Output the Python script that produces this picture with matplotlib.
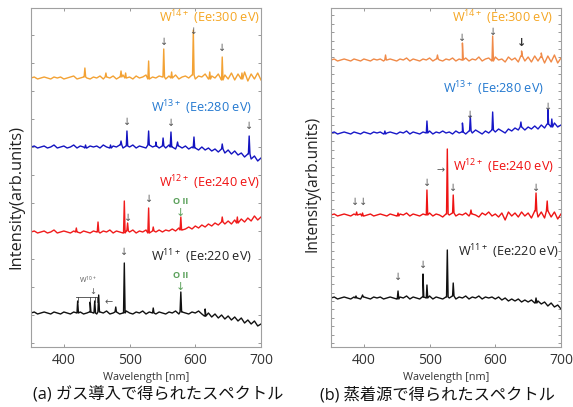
import numpy as np
import matplotlib

matplotlib.use("Agg")
import matplotlib.pyplot as plt

plt.rcParams["font.family"] = ["Open Sans", "Noto Sans CJK JP", "DejaVu Sans"]
plt.rcParams["mathtext.fontset"] = "custom"
plt.rcParams["mathtext.rm"] = "Open Sans"

# wavelength grid of the sampled baselines (nm)
wl = np.arange(350, 701, 5)

# ---- (a) gas injection ----
a_w14 = [269, 270, 268, 269, 270, 269, 268, 270, 269, 270, 268, 269, 270, 271, 268, 269, 270, 269, 268, 270,
         269, 271, 268, 270, 269, 271, 268, 270, 272, 269, 270, 268, 271, 269, 270, 272, 268, 270, 269, 271,
         270, 268, 271, 269, 272, 268, 270, 271, 269, 272, 268, 271, 270, 273, 268, 271, 269, 273, 267, 272,
         268, 274, 267, 273, 268, 275, 266, 273, 268, 274, 267]
a_w13 = [200, 201, 199, 200, 201, 199, 200, 202, 199, 200, 201, 199, 200, 202, 199, 201, 200, 199, 201, 200,
         201, 199, 202, 200, 199, 201, 200, 202, 199, 201, 200, 202, 199, 201, 200, 199, 202, 200, 201, 199,
         201, 199, 202, 200, 198, 201, 199, 201, 198, 200, 199, 197, 200, 197, 199, 196, 198, 195, 198, 194,
         197, 193, 196, 192, 194, 190, 193, 188, 191, 186, 189]
a_w12 = [115, 116, 114, 115, 116, 114, 115, 117, 114, 115, 116, 115, 114, 116, 115, 114, 116, 115, 114, 116,
         115, 114, 116, 115, 117, 114, 116, 115, 114, 116, 115, 117, 114, 116, 115, 117, 114, 116, 115, 117,
         115, 117, 116, 118, 116, 119, 117, 118, 120, 118, 121, 119, 122, 120, 123, 121, 124, 122, 125, 123,
         126, 123, 127, 124, 128, 125, 129, 126, 131, 127, 130]
a_w11 = [34, 35, 33, 34, 35, 34, 33, 35, 34, 33, 35, 34, 33, 35, 34, 35, 33, 34, 35, 34,
         33, 35, 34, 36, 33, 34, 35, 33, 34, 36, 34, 33, 35, 34, 36, 33, 35, 34, 33, 35,
         34, 33, 35, 34, 36, 33, 35, 34, 33, 35, 34, 36, 33, 31, 34, 30, 33, 29, 32, 28,
         31, 27, 30, 26, 29, 24, 27, 23, 26, 21, 23]

a_w14_peaks = [(432, 9), (464, 4), (487, 6), (494, 5), (529, 18), (552, 28), (564, 6),
               (597, 45), (622, 7), (641, 23), (671, 6)]
a_w13_peaks = [(433, 3), (471, 3), (487, 4), (496, 15), (529, 14), (540, 4), (551, 8),
               (563, 15), (573, 4), (598, 11), (641, 5), (682, 18)]
a_w12_peaks = [(419, 4), (452, 10), (492, 32), (497, 8), (529, 25), (536, 4), (578, 13),
               (641, 5), (664, 6)]
a_w11_peaks = [(421, 12), (440, 10), (447, 12), (453, 17), (479, 5), (492, 50), (536, 5),
               (578, 20), (615, 7)]

# ---- (b) evaporation source ----
b_w14 = [287, 288, 286, 287, 288, 287, 286, 288, 287, 286, 288, 287, 286, 288, 287, 288, 286, 287, 288, 287,
         286, 288, 287, 289, 286, 288, 287, 286, 288, 287, 289, 286, 288, 287, 286, 288, 287, 289, 286, 288,
         287, 289, 286, 288, 287, 290, 286, 288, 289, 286, 290, 287, 288, 285, 290, 287, 289, 285, 291, 286,
         290, 285, 291, 286, 290, 284, 291, 285, 292, 284, 289]
b_w13 = [214, 215, 213, 214, 215, 214, 213, 215, 214, 213, 215, 214, 213, 215, 214, 215, 213, 214, 215, 214,
         213, 215, 214, 216, 213, 215, 214, 213, 215, 214, 216, 213, 215, 214, 216, 214, 215, 213, 216, 214,
         215, 213, 216, 214, 217, 215, 213, 216, 214, 217, 215, 218, 216, 214, 218, 216, 219, 217, 220, 217,
         220, 218, 221, 218, 222, 219, 223, 220, 224, 220, 222]
b_w12 = [132, 133, 131, 132, 133, 132, 131, 133, 132, 133, 131, 132, 133, 131, 132, 133, 132, 131, 133, 132,
         131, 133, 132, 134, 131, 133, 132, 131, 133, 132, 134, 131, 133, 132, 130, 133, 132, 134, 131, 133,
         132, 134, 131, 133, 132, 130, 134, 132, 135, 131, 133, 130, 134, 127, 135, 131, 134, 130, 135, 131,
         134, 129, 136, 130, 135, 129, 136, 130, 135, 128, 133]
b_w11 = [49, 50, 48, 49, 50, 49, 48, 50, 49, 48, 50, 49, 48, 50, 49, 50, 48, 49, 50, 49,
         48, 50, 49, 51, 48, 50, 49, 48, 50, 49, 51, 48, 50, 49, 48, 50, 49, 51, 48, 50,
         49, 51, 48, 50, 49, 51, 48, 50, 49, 50, 48, 50, 47, 49, 46, 48, 46, 48, 45, 47,
         45, 47, 44, 46, 43, 45, 41, 44, 40, 42, 38]

b_w14_peaks = [(433, 5), (512, 4), (550, 17), (596, 25), (640, 5), (670, 4)]
b_w13_peaks = [(432, 3), (496, 12), (550, 9), (562, 15), (596, 18), (639, 5), (680, 15), (686, 8)]
b_w12_peaks = [(389, 3), (398, 3), (452, 3), (496, 25), (527, 65), (536, 18), (563, 4),
               (662, 18), (679, 10)]
b_w11_peaks = [(388, 2), (398, 2), (452, 8), (490, 23), (496, 13), (527, 47), (536, 13), (662, 5)]


def spectrum(base, peaks):
    x = list(wl)
    y = list(base)
    for p, h in peaks:
        b = base[int(np.argmin(np.abs(wl - p)))]
        x += [p - 1.2, p, p + 1.2]
        y += [b, b + h, b]
    order = np.argsort(x, kind="stable")
    return np.array(x)[order], np.array(y)[order]


def label(ax, x, y, ion, ee, color):
    ax.text(x, y, r"$\mathrm{W^{%s}}$ (Ee:%s eV)" % (ion, ee), color=color,
            fontsize=9.2, ha="right", va="center")


def arrow(ax, x, y, s="↓", color="#555555", size=7, **kw):
    ax.text(x, y, s, color=color, fontsize=size, ha="center", va="center",
            family=["DejaVu Sans"], **kw)


def setup(ax, ytick_step, ytick_start):
    ax.set_xlim(350, 700)
    ax.set_ylim(0, 339)
    for s in ax.spines.values():
        s.set_color("#a0a0a0")
        s.set_linewidth(0.8)
    ax.set_xticks([400, 500, 600, 700])
    ax.set_yticks(np.arange(ytick_start, 339, ytick_step))
    ax.set_yticklabels([])
    ax.tick_params(direction="in", length=2.5, width=0.6, color="#888888",
                   top=True, right=True, labelsize=10, labelcolor="#333333", pad=4)
    ax.set_xlabel("Wavelength [nm]", fontsize=7.8, color="#333333", labelpad=3)


fig = plt.figure(figsize=(5.73, 4.07), dpi=100)
ax1 = fig.add_axes([31 / 573, 60 / 407, 230 / 573, 339 / 407])
ax2 = fig.add_axes([331 / 573, 60 / 407, 230 / 573, 339 / 407])

# panel (a)
for base, peaks, c in [(a_w14, a_w14_peaks, "#f3a234"), (a_w13, a_w13_peaks, "#1414c0"),
                       (a_w12, a_w12_peaks, "#f01c1c"), (a_w11, a_w11_peaks, "#111111")]:
    x, y = spectrum(base, peaks)
    ax1.plot(x, y, color=c, lw=1.0)
setup(ax1, 28, 4)

label(ax1, 699, 329, "14+", "300", "#f5a623")
label(ax1, 687, 239, "13+", "280", "#2479d0")
label(ax1, 698, 164, "12+", "240", "#f01010")
label(ax1, 687, 90, "11+", "220", "#222222")

for px, py in [(552, 305), (641, 299), (496, 225), (563, 224), (682, 221),
               (497, 129), (529, 148), (492, 95)]:
    arrow(ax1, px, py)
arrow(ax1, 597, 316, size=6.5)
green = "#5aa05a"
ax1.text(578, 145, "O II", color=green, fontsize=6.5, ha="center", va="center", weight="bold")
arrow(ax1, 578, 134, color=green, size=8)
ax1.text(578, 72, "O II", color=green, fontsize=6.5, ha="center", va="center", weight="bold")
arrow(ax1, 578, 60, color=green, size=8)
ax1.text(436, 67, r"$\mathrm{W^{10+}}$", color="#555555", fontsize=5, ha="center", va="center")
arrow(ax1, 444, 56, size=6)
ax1.plot([419, 451], [50, 50], color="#444444", lw=0.6)
for bx in [421, 440, 447, 451]:
    ax1.plot([bx, bx], [50, 45], color="#444444", lw=0.6)
arrow(ax1, 468, 45, s="←", size=7)

# panel (b)
for base, peaks, c in [(b_w14, b_w14_peaks, "#f08a48"), (b_w13, b_w13_peaks, "#1818c8"),
                       (b_w12, b_w12_peaks, "#ee1414"), (b_w11, b_w11_peaks, "#111111")]:
    x, y = spectrum(base, peaks)
    ax2.plot(x, y, color=c, lw=1.0)
setup(ax2, 8.4, 4)

label(ax2, 688, 329, "14+", "300", "#f5a623")
label(ax2, 674, 258, "13+", "280", "#2479d0")
label(ax2, 689, 180, "12+", "240", "#f01010")
label(ax2, 697, 95, "11+", "220", "#222222")

for px, py in [(550, 309), (596, 315), (562, 232), (680, 240), (496, 164), (536, 159),
               (662, 159), (452, 70), (490, 82)]:
    arrow(ax2, px, py)
arrow(ax2, 393.5, 145, s="↓↓", size=7)
arrow(ax2, 640, 304, color="#333333", size=8, weight="bold")
arrow(ax2, 516, 177, s="→", size=7)

fig.text(16 / 573, 210 / 407, "Intensity(arb.units)", rotation=90, fontsize=11.8,
         ha="center", va="center", color="#222222")
fig.text(312 / 573, 223 / 407, "Intensity(arb.units)", rotation=90, fontsize=11.2,
         ha="center", va="center", color="#222222")
fig.text(158 / 573, 12 / 407, "(a) ガス導入で得られたスペクトル", fontsize=11.7,
         ha="center", va="center", color="#111111")
fig.text(437 / 573, 12 / 407, "(b) 蒸着源で得られたスペクトル", fontsize=11.7,
         ha="center", va="center", color="#111111")

fig.savefig("out.png", dpi=100)
